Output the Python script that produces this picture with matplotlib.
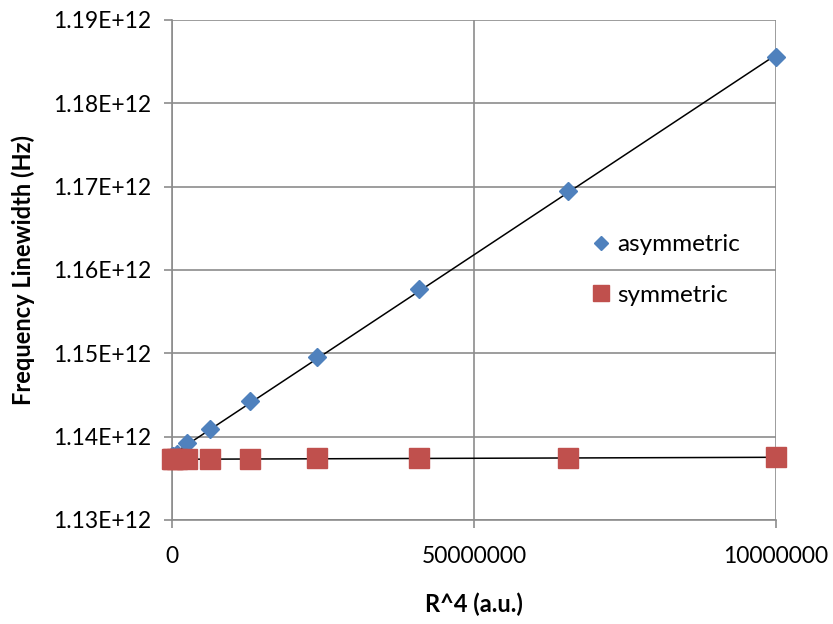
import numpy as np
import matplotlib
matplotlib.use("Agg")
import matplotlib.pyplot as plt

plt.rcParams['font.family'] = ['Lato', 'DejaVu Sans']

# R^4 values (a.u.)
r4 = [1e4, 1.6e5, 8.1e5, 2.56e6, 6.25e6, 1.296e7, 2.401e7, 4.096e7, 6.561e7, 1e8]
# linewidths (Hz)
asym = [1.13766e12, 1.13772e12, 1.13790e12, 1.13920e12, 1.14090e12,
        1.14425e12, 1.14952e12, 1.15770e12, 1.16945e12, 1.18556e12]
sym = [1.13728e12, 1.13728e12, 1.13728e12, 1.13730e12, 1.13730e12,
       1.13728e12, 1.13740e12, 1.13740e12, 1.13742e12, 1.13752e12]

xticks = [0, 5e7, 1e8]
xticklabels = ["0", "50000000", "10000000"]
yticks = [1.13e12, 1.14e12, 1.15e12, 1.16e12, 1.17e12, 1.18e12, 1.19e12]
yticklabels = ["1.13E+12", "1.14E+12", "1.15E+12", "1.16E+12",
               "1.17E+12", "1.18E+12", "1.19E+12"]

fig = plt.figure(figsize=(8.33, 6.24), dpi=100)
ax = fig.add_axes([0.2065, 0.1667, 0.7251, 0.8013])

grid_c = "#8c8c8c"

# linear trendlines
xx = np.array([0, 1e8])
for ys in (asym, sym):
    p = np.polyfit(r4, ys, 1)
    ax.plot(xx, np.polyval(p, xx), color="black", lw=1.1, zorder=3)

ax.plot(r4, asym, "D", color="#4F81BD", ms=9.5, mec="#4F81BD", zorder=4,
        label="asymmetric", clip_on=False)
ax.plot(r4, sym, "s", color="#C0504D", ms=14, mec="#C0504D", zorder=4,
        label="symmetric", clip_on=False)

ax.set_xlim(0, 1e8)
ax.set_ylim(1.13e12, 1.19e12)
ax.set_xticks(xticks)
ax.set_xticklabels(xticklabels)
ax.set_yticks(yticks)
ax.set_yticklabels(yticklabels)
ax.grid(True, color=grid_c, lw=1.2)
ax.set_axisbelow(True)
for s in ("top", "right"):
    ax.spines[s].set_visible(False)
for s in ("left", "bottom"):
    ax.spines[s].set_color(grid_c)
    ax.spines[s].set_linewidth(1.2)
ax.tick_params(axis="both", colors=grid_c, labelcolor="black", length=6,
               width=1.2, labelsize=16.5)
ax.tick_params(axis="x", pad=13)
ax.tick_params(axis="y", pad=9)

ax.set_xlabel("R^4 (a.u.)", fontsize=17, fontweight="bold")
ax.set_ylabel("Frequency Linewidth (Hz)", fontsize=17, fontweight="bold")
ax.xaxis.set_label_coords(0.5, -0.145)
ax.yaxis.set_label_coords(-0.227, 0.5)

leg = ax.legend(loc="upper left", bbox_to_anchor=(0.66, 0.615), frameon=False,
                fontsize=17.5, labelspacing=1.2, handlelength=0.7,
                handletextpad=0.3, markerscale=0.8)

fig.savefig("out.png", dpi=100)
